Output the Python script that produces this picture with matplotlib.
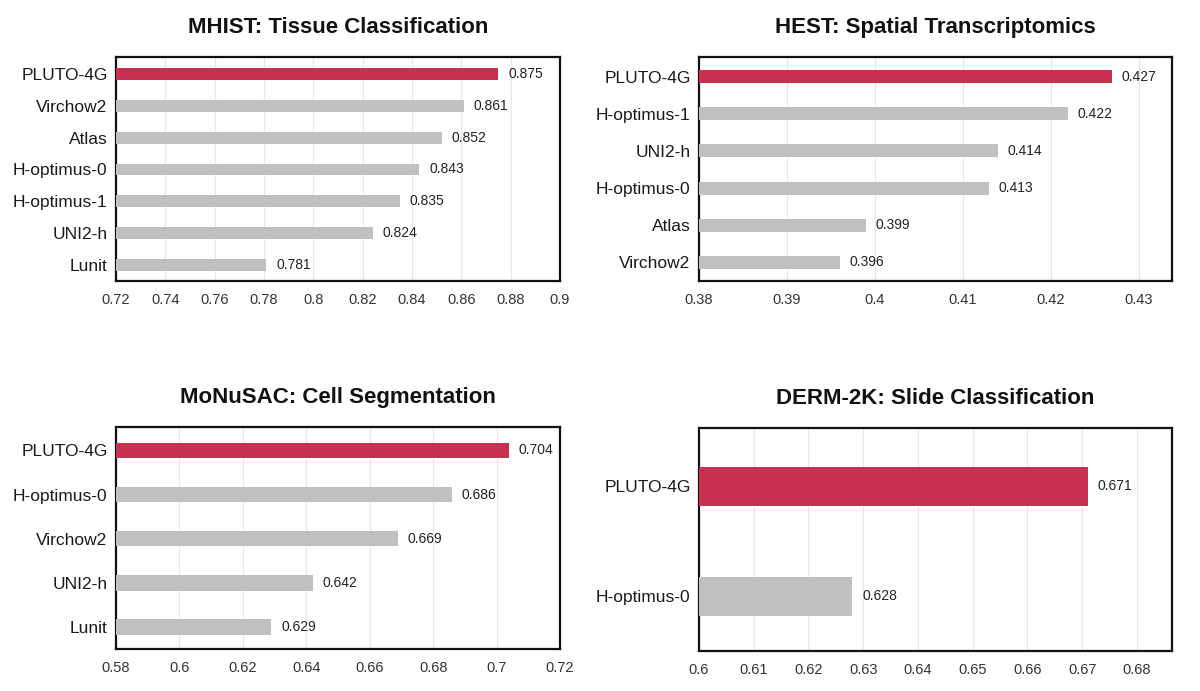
import matplotlib
matplotlib.use("Agg")
import matplotlib.pyplot as plt

plt.rcParams['font.family'] = ['Liberation Sans', 'DejaVu Sans']

# ---- data ----
mhist_models = ["PLUTO-4G", "Virchow2", "Atlas", "H-optimus-0", "H-optimus-1", "UNI2-h", "Lunit"]
mhist_values = [0.875, 0.861, 0.852, 0.843, 0.835, 0.824, 0.781]
mhist_ticks = [0.72, 0.74, 0.76, 0.78, 0.80, 0.82, 0.84, 0.86, 0.88, 0.90]

hest_models = ["PLUTO-4G", "H-optimus-1", "UNI2-h", "H-optimus-0", "Atlas", "Virchow2"]
hest_values = [0.427, 0.422, 0.414, 0.413, 0.399, 0.396]
hest_ticks = [0.38, 0.39, 0.40, 0.41, 0.42, 0.43]

monusac_models = ["PLUTO-4G", "H-optimus-0", "Virchow2", "UNI2-h", "Lunit"]
monusac_values = [0.704, 0.686, 0.669, 0.642, 0.629]
monusac_ticks = [0.58, 0.60, 0.62, 0.64, 0.66, 0.68, 0.70, 0.72]

derm_models = ["PLUTO-4G", "H-optimus-0"]
derm_values = [0.671, 0.628]
derm_ticks = [0.60, 0.61, 0.62, 0.63, 0.64, 0.65, 0.66, 0.67, 0.68]

titles = ["MHIST: Tissue Classification", "HEST: Spatial Transcriptomics",
          "MoNuSAC: Cell Segmentation", "DERM-2K: Slide Classification"]

RED = "#C8304F"
GRAY = "#C0C0C0"

def fmt(v):
    return f"{v:.2f}".rstrip("0").rstrip(".")

fig = plt.figure(figsize=(12, 6.91), dpi=100)
W, H = 1200, 691

def make_ax(left, top, right, bottom):
    return fig.add_axes([left / W, 1 - bottom / H, (right - left) / W, (bottom - top) / H])

panels = [
    (make_ax(116, 57, 560, 281), mhist_models, mhist_values, mhist_ticks, (0.72, 0.90), 0.37, titles[0]),
    (make_ax(699, 57, 1172, 281), hest_models, hest_values, hest_ticks, (0.38, 0.4338), 0.35, titles[1]),
    (make_ax(116, 427, 560, 649), monusac_models, monusac_values, monusac_ticks, (0.58, 0.72), 0.355, titles[2]),
    (make_ax(699, 428, 1172, 651), derm_models, derm_values, derm_ticks, (0.60, 0.6864), 0.355, titles[3]),
]

for ax, models, values, ticks, xlim, bh, title in panels:
    n = len(models)
    ypos = list(range(n))
    colors = [RED if m == "PLUTO-4G" else GRAY for m in models]
    ax.barh(ypos, [v - xlim[0] for v in values], left=xlim[0], height=bh,
            color=colors, zorder=3)
    ax.set_xlim(*xlim)
    ax.set_ylim(n - 0.5, -0.53)
    ax.set_yticks(ypos)
    ax.set_yticklabels(models, fontsize=12.5, color="#1a1a1a")
    ax.set_xticks(ticks)
    ax.set_xticklabels([fmt(t) for t in ticks], fontsize=10.5, color="#333333")
    ax.tick_params(axis="y", length=0, pad=6)
    ax.tick_params(axis="x", length=0, pad=9)
    ax.grid(axis="x", color="#E8E8E8", linewidth=0.9, zorder=0)
    ax.set_axisbelow(True)
    for sp in ax.spines.values():
        sp.set_linewidth(1.6)
        sp.set_color("#111111")
    for y, v in zip(ypos, values):
        ax.annotate(f"{v:.3f}", xy=(v, y), xytext=(7, 0), textcoords="offset points",
                    va="center", ha="left", fontsize=10, color="#222222")
    ax.set_title(title, fontsize=16, fontweight="bold", pad=17, color="#111111")

fig.savefig("out.png", dpi=100, facecolor="white")
